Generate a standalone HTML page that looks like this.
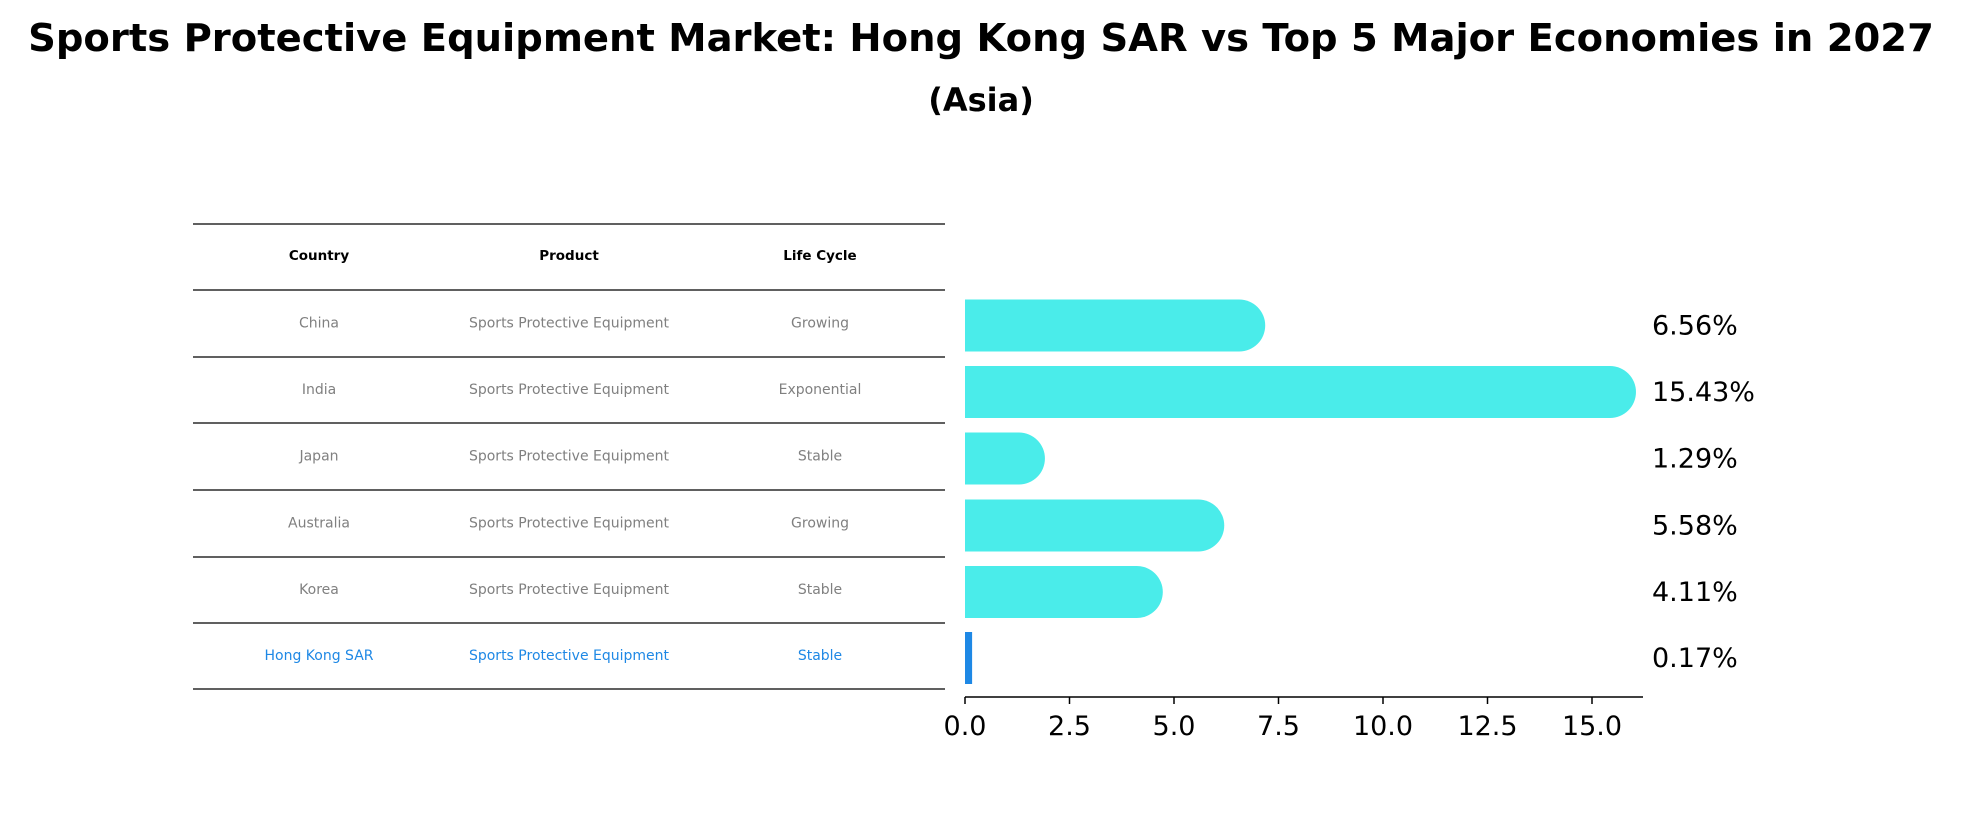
<!DOCTYPE html>
<html><head><meta charset="utf-8"><style>
body{margin:0;background:#fff;font-family:"Liberation Sans","DejaVu Sans",sans-serif}
</style></head><body>
<svg width="1962" height="823" xmlns="http://www.w3.org/2000/svg" font-family="DejaVu Sans, Liberation Sans, sans-serif">
<text x="981" y="51" text-anchor="middle" font-size="38.5" font-weight="bold">Sports Protective Equipment Market: Hong Kong SAR vs Top 5 Major Economies in 2027</text>
<text x="981" y="111" text-anchor="middle" font-size="32" font-weight="bold">(Asia)</text>
<g id="table"></g>
<g id="bars"></g>
</svg>
<script>
const countries=["China","India","Japan","Australia","Korea","Hong Kong SAR"];
const products=["Sports Protective Equipment","Sports Protective Equipment","Sports Protective Equipment","Sports Protective Equipment","Sports Protective Equipment","Sports Protective Equipment"];
const lifecycles=["Growing","Exponential","Stable","Growing","Stable","Stable"];
const values=[6.56,15.43,1.29,5.58,4.11,0.17];
const ticks=[0,2.5,5,7.5,10,12.5,15];
const NS="http://www.w3.org/2000/svg";
function mk(p,t,a){const e=document.createElementNS(NS,t);for(const k in a)e.setAttribute(k,a[k]);p.appendChild(e);return e;}
const tb=document.getElementById('table'),bg=document.getElementById('bars');
const lineYs=[224,290,357,423,490,557,623,689];
const colX=[319,569,820];
lineYs.forEach(y=>{const l=mk(tb,'line',{x1:193,x2:945,y1:y,y2:y,stroke:'#000','stroke-width':1.2});

});
["Country","Product","Life Cycle"].forEach((h,i)=>{const t=mk(tb,'text',{x:colX[i],y:260,'text-anchor':'middle','font-size':13.5,'font-weight':'bold'});t.textContent=h;

});
const X0=965,U=41.8;const sx=v=>X0+v*U;
const rowY=i=>(lineYs[i+1]+lineYs[i+2])/2;
countries.forEach((c,i)=>{
 const hk=i===countries.length-1;const col=hk?'#1e88e5':'#808080';
 [c,products[i],lifecycles[i]].forEach((s,j)=>{const t=mk(tb,'text',{x:colX[j],y:rowY(i)+4,'text-anchor':'middle','font-size':14,fill:col});t.textContent=s;
 
 });
 const cy=rowY(i)+2,h=52,w=sx(values[i])-X0;
 if(hk){
  const r=mk(bg,'rect',{x:X0,y:cy-h/2,width:Math.max(w,2),height:h,fill:'#1e88e5'});
  
  
 }else{
  const p=mk(bg,'path',{d:`M${X0},${cy-h/2}H${X0+w}A${h/2},${h/2} 0 0 1 ${X0+w},${cy+h/2}H${X0}Z`,fill:'#4aecea'});
  
  
 }
 const vt=mk(bg,'text',{x:1652,y:cy+9,'font-size':27});vt.textContent=values[i].toFixed(2)+'%';
 
 
});
const ax=mk(bg,'line',{x1:X0,x2:1643,y1:697,y2:697,stroke:'#000','stroke-width':1.5});


ticks.forEach(v=>{const l=mk(bg,'line',{x1:sx(v),x2:sx(v),y1:697,y2:704,stroke:'#000','stroke-width':1.5});


const t=mk(bg,'text',{x:sx(v),y:735,'text-anchor':'middle','font-size':27});t.textContent=v.toFixed(1);

});
</script>
</body></html>
